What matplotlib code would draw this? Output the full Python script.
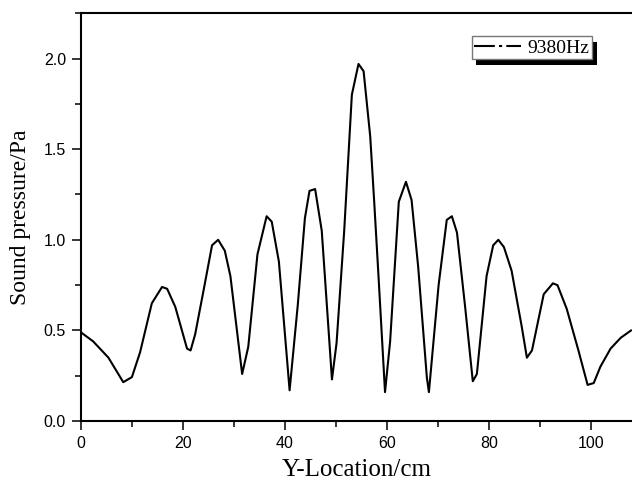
import matplotlib.pyplot as plt
import matplotlib.patheffects as pe
from matplotlib.lines import Line2D
from matplotlib.ticker import MultipleLocator

# Y-location (cm) and sound pressure (Pa)
location = [0, 2.4, 5.4, 8.3, 10.0, 11.6, 13.9, 15.9, 16.9, 18.5, 20.8, 21.5,
            22.4, 24.1, 25.7, 26.9, 28.2, 29.3, 31.6, 32.8, 34.6, 36.4, 37.4,
            38.8, 40.9, 42.5, 43.9, 44.8, 45.9, 47.2, 49.2, 50.1, 51.6, 53.1,
            54.4, 55.4, 56.7, 57.5, 58.3, 59.6, 60.6, 62.3, 63.7, 64.8, 66.1,
            67.8, 68.2, 70.1, 71.7, 72.7, 73.7, 75.3, 76.8, 77.6, 79.5, 80.8,
            81.8, 82.9, 84.4, 86.4, 87.4, 88.4, 90.7, 92.5, 93.4, 95.2, 97.5,
            99.3, 100.5, 101.8, 103.8, 105.8, 107.8]
pressure = [0.49, 0.44, 0.35, 0.215, 0.243, 0.38, 0.65, 0.74, 0.73, 0.63, 0.40,
            0.39, 0.48, 0.73, 0.97, 1.00, 0.94, 0.80, 0.26, 0.41, 0.92, 1.13,
            1.10, 0.88, 0.17, 0.64, 1.12, 1.27, 1.28, 1.05, 0.23, 0.43, 1.05,
            1.80, 1.97, 1.93, 1.57, 1.20, 0.81, 0.16, 0.44, 1.21, 1.32, 1.22,
            0.85, 0.24, 0.16, 0.75, 1.11, 1.13, 1.04, 0.63, 0.22, 0.26, 0.80,
            0.97, 1.00, 0.96, 0.83, 0.52, 0.35, 0.39, 0.70, 0.76, 0.75, 0.62,
            0.39, 0.20, 0.21, 0.30, 0.40, 0.46, 0.50]
series_name = '9380Hz'

serif = 'Liberation Serif'
sans = 'Liberation Sans'

fig = plt.figure(figsize=(6.32, 4.88), dpi=100)
ax = fig.add_axes([0.128, 0.137, 0.872, 0.836])

ax.plot(location, pressure, color='black', linewidth=1.5)

ax.set_xlim(0, 108)
ax.set_ylim(0, 2.25)
ax.xaxis.set_major_locator(MultipleLocator(20))
ax.xaxis.set_minor_locator(MultipleLocator(10))
ax.yaxis.set_major_locator(MultipleLocator(0.5))
ax.yaxis.set_minor_locator(MultipleLocator(0.25))
ax.yaxis.set_major_formatter(plt.FormatStrFormatter('%.1f'))

ax.tick_params(which='major', direction='out', length=6.5, width=1.1,
               top=False, right=False, labelsize=11.5, pad=4.3)
ax.tick_params(which='minor', direction='out', length=4.3, width=1.1,
               top=False, right=False)
for lab in ax.get_xticklabels() + ax.get_yticklabels():
    lab.set_fontfamily(sans)

for side in ['left', 'bottom', 'top']:
    ax.spines[side].set_linewidth(1.5)
ax.spines['right'].set_visible(False)

ax.set_xlabel('Y-Location/cm', fontfamily=serif, fontsize=18, labelpad=6)
ax.set_ylabel('Sound pressure/Pa', fontfamily=serif, fontsize=17, labelpad=9)

handle = Line2D([], [], color='black', linewidth=1.5,
                linestyle=(0, (10, 2, 1.5, 2)))
leg = ax.legend([handle], [series_name], loc='upper right',
                bbox_to_anchor=(0.927, 0.944), fancybox=False, shadow=False,
                framealpha=1.0, prop={'family': serif, 'size': 14},
                handlelength=2.4, handletextpad=0.3, borderpad=0.15,
                borderaxespad=0)
frame = leg.get_frame()
frame.set_facecolor('white')
frame.set_edgecolor('#777777')
frame.set_linewidth(1.0)
frame.set_path_effects([pe.SimplePatchShadow(offset=(3.5, -4), shadow_rgbFace='black',
                                             alpha=1.0), pe.Normal()])

plt.savefig('out.png', dpi=100)
